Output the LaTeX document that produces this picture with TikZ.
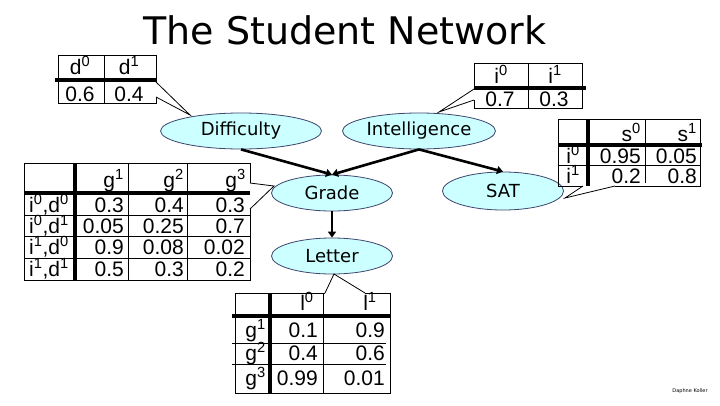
\documentclass[tikz,border=0pt]{standalone}
\usepackage{fontspec}
\setmainfont{DejaVu Sans}
\newfontfamily\tabfont{Liberation Sans}
\usetikzlibrary{shapes.geometric, arrows.meta}

\definecolor{varfill}{RGB}{204,255,255}
\definecolor{varline}{RGB}{60,70,110}

\tikzset{
  var/.style={ellipse, draw=varline, fill=varfill, line width=0.8pt,
    minimum width=121pt, minimum height=36pt, inner sep=0pt,
    font=\fontsize{18}{18}\selectfont},
  dep/.style={line width=2.6pt, -{Triangle[length=6pt,width=8pt]}},
  cell/.style={inner sep=0pt, text height=15pt, text depth=0pt,
    font=\tabfont\fontsize{21}{21}\selectfont},
  val/.style={cell, anchor=east},
  rule/.style={line width=0.8pt},
  bigrule/.style={line width=3.5pt},
}

\begin{document}
\begin{tikzpicture}[x=1pt,y=-1pt]

    \useasboundingbox (0,0) rectangle (720,405);

    \node[font=\fontsize{38}{38}\selectfont] (title) at (345,30) {The Student Network};

    % --- Variables ---
    \node[var, minimum width=161pt] (diff) at (241,131) {Difficulty};
    \node[var, minimum width=153pt] (intel) at (419,131) {Intelligence};
    \node[var] (grade) at (332,193) {Grade};
    \node[var, minimum height=38pt] (sat) at (503,191) {SAT};
    \node[var] (letter) at (332,256) {Letter};

    % --- Edges ---
    \draw[dep] (diff.south) -- (grade.north);
    \draw[dep] (intel.south) -- (grade.north);
    \draw[dep] (intel.south) -- (sat.north);
    \draw[dep] (grade.south) -- (letter.north);

    % --- Callout tips ---
    \coordinate (difftip) at (190,115);
    \coordinate (inteltip) at (439,112);
    \coordinate (gradetip) at (274,186);
    \coordinate (sattip) at (565,198);
    \coordinate (lettertip) at (334,274);

    % --- P(D) ---
    \draw[rule] (156,82) -- (156,55) -- (58,55) -- (58,103) -- (156,103) -- (156,97);
    \draw[rule] (156,82) -- (difftip) -- (156,97);
    \draw[rule] (104,55) -- (104,103);
    \draw[bigrule] (55,80) -- (156,80);
    \node[cell] (d0) at (80,67) {d\textsuperscript{0}};
    \node[cell] (d1) at (129,67) {d\textsuperscript{1}};
    \node[cell] (pd0) at (80,94) {0.6};
    \node[cell] (pd1) at (129,94) {0.4};

    % --- P(I) ---
    \draw[rule] (474,89) -- (474,63) -- (582,63) -- (582,108) -- (474,108) -- (474,100);
    \draw[rule] (474,89) -- (inteltip) -- (474,100);
    \draw[rule] (528,63) -- (528,108);
    \draw[bigrule] (474,88) -- (586,88);
    \node[cell] (i0) at (501,76) {i\textsuperscript{0}};
    \node[cell] (i1) at (555,76) {i\textsuperscript{1}};
    \node[cell] (pi0) at (500,99) {0.7};
    \node[cell] (pi1) at (554,99) {0.3};

    % --- P(G|I,D) ---
    \draw[rule] (250,183) -- (250,163) -- (24,163) -- (24,280) -- (250,280) -- (250,209);
    \draw[rule] (250,183) -- (gradetip) -- (250,209);
    \draw[rule] (128,163) -- (128,280);
    \draw[rule] (187,163) -- (187,280);
    \foreach \y in {215,236,258}
      \draw[rule] (24,\y) -- (250,\y);
    \draw[bigrule] (75,163) -- (75,280);
    \draw[bigrule] (24,193) -- (250,193);
    \node[val] (g1) at (124,180) {g\textsuperscript{1}};
    \node[val] (g2) at (184,180) {g\textsuperscript{2}};
    \node[val] (g3) at (246,180) {g\textsuperscript{3}};
    \node[cell] (r1) at (49,205) {i\textsuperscript{0},d\textsuperscript{0}};
    \node[cell] (r2) at (49,226) {i\textsuperscript{0},d\textsuperscript{1}};
    \node[cell] (r3) at (49,247) {i\textsuperscript{1},d\textsuperscript{0}};
    \node[cell] (r4) at (49,269) {i\textsuperscript{1},d\textsuperscript{1}};
    \node[val] (g11) at (124,205) {0.3};
    \node[val] (g12) at (184,205) {0.4};
    \node[val] (g13) at (245,205) {0.3};
    \node[val] (g21) at (124,226) {0.05};
    \node[val] (g22) at (184,226) {0.25};
    \node[val] (g23) at (245,226) {0.7};
    \node[val] (g31) at (124,247) {0.9};
    \node[val] (g32) at (184,247) {0.08};
    \node[val] (g33) at (245,247) {0.02};
    \node[val] (g41) at (124,269) {0.5};
    \node[val] (g42) at (184,269) {0.3};
    \node[val] (g43) at (245,269) {0.2};

    % --- P(S|I) ---
    \draw[rule] (583,186) -- (558,186) -- (558,119) -- (700,119) -- (700,186) -- (615,186);
    \draw[rule] (583,186) -- (sattip) -- (615,186);
    \draw[rule] (645,119) -- (645,183);
    \draw[rule] (558,165) -- (700,165);
    \draw[bigrule] (588,119) -- (588,186);
    \draw[bigrule] (558,145) -- (702,145);
    \node[val] (s0) at (641,134) {s\textsuperscript{0}};
    \node[val] (s1) at (697,134) {s\textsuperscript{1}};
    \node[cell] (si0) at (573,156) {i\textsuperscript{0}};
    \node[cell] (si1) at (573,176) {i\textsuperscript{1}};
    \node[val] (s01) at (641,156) {0.95};
    \node[val] (s02) at (697,156) {0.05};
    \node[val] (s11) at (641,176) {0.2};
    \node[val] (s12) at (697,176) {0.8};

    % --- P(L|G) ---
    \draw[rule] (325,293) -- (235,293) -- (235,393) -- (390,393) -- (390,293) -- (365,293);
    \draw[rule] (325,293) -- (lettertip) -- (365,293);
    \draw[rule] (323,293) -- (323,393);
    \foreach \y in {343,364}
      \draw[rule] (232,\y) -- (386,\y);
    \draw[bigrule] (270,293) -- (270,393);
    \draw[bigrule] (232,316) -- (390,316);
    \node[cell] (l0) at (307,303) {l\textsuperscript{0}};
    \node[cell] (l1) at (370,303) {l\textsuperscript{1}};
    \node[val] (lg1) at (266,330) {g\textsuperscript{1}};
    \node[val] (lg2) at (266,353) {g\textsuperscript{2}};
    \node[val] (lg3) at (266,378) {g\textsuperscript{3}};
    \node[val] (l11) at (318,330) {0.1};
    \node[val] (l12) at (385,330) {0.9};
    \node[val] (l21) at (318,353) {0.4};
    \node[val] (l22) at (385,353) {0.6};
    \node[val] (l31) at (318,378) {0.99};
    \node[val] (l32) at (385,378) {0.01};

    \node[font=\fontsize{5}{5}\selectfont] (credit) at (690,391) {Daphne Koller};

\end{tikzpicture}
\end{document}
